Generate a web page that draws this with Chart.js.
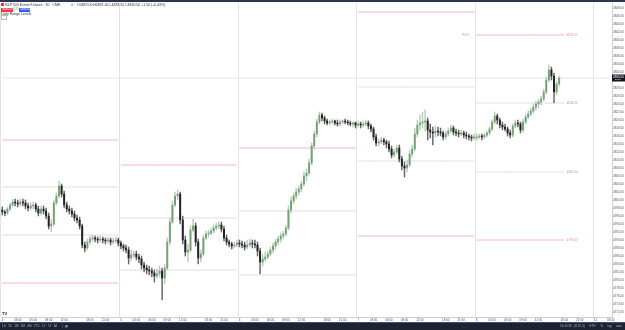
<!DOCTYPE html>
<html lang="en">
<head>
<meta charset="UTF-8">
<title>ES1! · 30 · CME</title>
<script src="https://cdn.jsdelivr.net/npm/chart.js"></script>
<style>
  body { margin: 0; width: 625px; height: 330px; overflow: hidden; background: #fff;
         font-family: "Liberation Sans", Arial, sans-serif; position: relative; }
  canvas { position: absolute; left: 0; top: 0; }
  .topline { position: absolute; left: 0; top: 0; width: 625px; height: 2px; background: #2c3554; }
  .row { position: absolute; left: 1px; white-space: nowrap; font-size: 3.5px; line-height: 4px; color: #333; }
  .logo { display: inline-block; width: 3px; height: 3px; background: #e03048; vertical-align: middle; margin-right: 1px; }
  .box { display: inline-block; height: 3.5px; line-height: 3.5px; padding: 0 1.5px; color: #fff; font-size: 2.8px; }
  .sell { background: #f23645; width: 9px; }
  .buy { background: #2962ff; width: 8px; }
  .spread { display: inline-block; width: 6px; text-align: center; color: #888; font-size: 2.8px; }
  .fold { position: absolute; left: 1px; top: 15px; width: 4px; height: 3px; border: 0.5px solid #bbb;
          font-size: 2.5px; line-height: 3px; text-align: center; color: #666; }
  .tv { position: absolute; left: 2px; top: 311px; font-size: 4px; font-weight: bold; color: #131722; }
  .bottombar { position: absolute; left: 0; top: 322px; width: 625px; height: 8px; background: #1e2233;
               border-top: 1px solid #3d4f8a; box-sizing: border-box; color: #aab; font-size: 3px; line-height: 7px; }
  .bottombar .l { position: absolute; left: 2px; word-spacing: 1.5px; }
  .bottombar .r { position: absolute; right: 3px; word-spacing: 1.5px; }
</style>
</head>
<body>
<canvas id="chart" width="625" height="330"></canvas>
<div class="topline"></div>
<div class="row" style="top:2.5px"><span class="logo"></span>S&amp;P 500 E-mini Futures · 30 · CME &nbsp;&nbsp;&nbsp;&nbsp;&nbsp;&nbsp;&nbsp;&nbsp;&nbsp; ≡ &nbsp;&nbsp; O4829.00 H4831.00 L4828.50 C4830.50 +1.50 (+0.03%)</div>
<div class="row" style="top:7px"><span class="box sell">4830.25</span><span class="spread">0.25</span><span class="box buy">4830.50</span></div>
<div class="row" style="top:11.5px">Daily Range Levels</div>
<div class="fold">^</div>
<div class="tv">TV</div>
<div class="bottombar">
  <span class="l">1D 5D 1M 3M 6M YTD 1Y 5Y All &nbsp;| &#9638;</span>
  <span class="r">16:10:36 (UTC-5) &nbsp;ETH &nbsp;% &nbsp;log &nbsp;auto</span>
</div>
<script>
// 30-minute candles, [open, high, low, close]
const day1 = [
  [4797.5,4798.25,4796.25,4797],[4797,4797.5,4796,4796.75],[4796.75,4798.25,4796.25,4797.75],
  [4797.75,4799.25,4797.25,4798.75],[4798.75,4800.25,4798.25,4799.5],[4799.5,4800.25,4798.5,4799.25],
  [4799.25,4800,4798.25,4799],[4799,4800.25,4798.5,4799.5],[4799.5,4800.25,4798.5,4799.25],
  [4799.25,4800,4797.75,4798.5],[4798.5,4799.25,4797.25,4798],[4798,4799.25,4797.5,4798.5],
  [4798.5,4799.5,4797.75,4798.75],[4798.75,4799.25,4797,4797.75],[4797.75,4798.5,4796,4796.75],
  [4796.75,4798.5,4796.25,4797.75],[4797.75,4798.5,4796.5,4797.25],[4797.25,4798,4795.25,4796],
  [4796,4796.75,4792.75,4793.5],[4793.5,4795.25,4792,4794],[4794,4800,4793.5,4799.25],
  [4799.25,4801.75,4798.75,4801],[4801,4804.75,4800.5,4803.5],[4803.5,4804,4800.75,4801.5],
  [4801.5,4802.25,4798,4798.75],[4798.75,4799.5,4797,4797.75],[4797.75,4798.5,4796.5,4797.25],
  [4797.25,4798,4795.75,4796.5],[4796.5,4797.25,4794.75,4795.5],[4795.5,4796.25,4794.25,4795],
  [4795,4795.75,4792.75,4793.5],[4793.5,4794,4788,4788.75],[4788.75,4789.5,4787,4788],
  [4788,4790.25,4787.5,4789.5],[4789.5,4791,4789,4790.25],[4790.25,4791.25,4789.75,4790.5],
  [4790.5,4791,4789.5,4790.25],[4790.25,4790.75,4789.25,4790],[4790,4791,4789.5,4790.25],
  [4790.25,4790.75,4789.25,4790],[4790,4790.5,4789,4789.75],[4789.75,4790.75,4789.25,4790],
  [4790,4790.5,4788.75,4789.5],[4789.5,4790.5,4789,4789.75],[4789.75,4790.75,4789.25,4790],
  [4790,4790.5,4788.5,4789.25]
];
const day2 = [
  [4789.25,4789.75,4787.75,4788.5],[4788.5,4789,4787.25,4788],[4788,4788.75,4786.75,4787.5],
  [4787.5,4788.25,4784,4785.5],[4785.5,4787.5,4784.75,4786.25],[4786.25,4787.25,4785.5,4786.5],
  [4786.5,4787.25,4785,4785.75],[4785.75,4786.5,4784.25,4785.25],[4785.25,4786,4782.75,4783.75],
  [4783.75,4784.5,4782,4783],[4783,4783.75,4781.5,4782.5],[4782.5,4783.5,4781.25,4782.25],
  [4782.25,4783,4780.75,4781.75],[4781.75,4782.5,4779.5,4781],[4781,4782.75,4780.5,4781.5],
  [4781.5,4783.5,4780.75,4782.25],[4782.25,4783,4775,4780.5],[4780.5,4784,4779,4783],
  [4783,4790.5,4782.5,4789.5],[4789.5,4795.5,4788.75,4794.5],[4794.5,4799.75,4794,4798.75],
  [4798.75,4802,4798.25,4801],[4801,4802.5,4800,4801.5],[4801.5,4802,4794,4795],
  [4795,4796,4789,4790],[4790,4791,4786,4787],[4787,4789,4784.5,4787.5],
  [4787.5,4793.5,4787,4792.5],[4792.5,4795.25,4792,4793.5],[4793.5,4794.25,4788.5,4789.5],
  [4789.5,4790.25,4784,4785.5],[4785.5,4787.5,4784.5,4786.5],[4786.5,4791.25,4786,4790.5],
  [4790.5,4792.25,4790,4791.5],[4791.5,4792.5,4790.75,4791.75],[4791.75,4793,4791.25,4792.25],
  [4792.25,4793.75,4791.75,4793],[4793,4794.25,4792.5,4793.5],[4793.5,4794.5,4792.75,4793.75],
  [4793.75,4794.5,4792,4792.75],[4792.75,4793.5,4789.75,4790.5],[4790.5,4791.25,4788.75,4789.5],
  [4789.5,4790,4788.25,4789],[4789,4789.5,4787.75,4788.5],[4788.5,4789.5,4788,4788.75],
  [4788.75,4790,4788.25,4789.25]
];
const day3 = [
  [4789.25,4790,4788.25,4789],[4789,4789.75,4788,4788.75],[4788.75,4789.5,4787.5,4788.25],
  [4788.25,4790,4787.75,4788.75],[4788.75,4790.25,4788.25,4789.25],[4789.25,4790,4788,4789],
  [4789,4790,4788,4788.75],[4788.75,4789.5,4786,4787.25],[4787.25,4788,4781.5,4784.5],
  [4784.5,4786.5,4783.5,4785.25],[4785.25,4787,4784.75,4785.75],[4785.75,4787.25,4785.25,4786.5],
  [4786.5,4788.25,4786,4787.5],[4787.5,4789.25,4786.75,4788.5],[4788.5,4790.25,4787.75,4789.5],
  [4789.5,4791,4788.75,4790.25],[4790.25,4791.75,4789.5,4791],[4791,4792.25,4790.25,4791.5],
  [4791.5,4793.75,4791,4793],[4793,4798.5,4792.5,4797.5],[4797.5,4800.75,4796.75,4799.75],
  [4799.75,4801.75,4799,4801],[4801,4803,4800.25,4802],[4802,4803.5,4801.25,4802.75],
  [4802.75,4804.75,4802,4804],[4804,4807,4803.5,4806],[4806,4807.75,4804.75,4806.75],
  [4806.75,4810.25,4806.25,4809.25],[4809.25,4814.25,4808.75,4813.5],[4813.5,4817.25,4812.75,4816.5],
  [4816.5,4820.25,4815.75,4819.5],[4819.5,4822,4819,4821.25],[4821.25,4821.75,4819.75,4820.5],
  [4820.5,4821,4819,4819.75],[4819.75,4820.25,4818.75,4819.25],[4819.25,4820,4818.75,4819.5],
  [4819.5,4820.25,4819,4819.75],[4819.75,4820,4818.75,4819.25],[4819.25,4820,4818.5,4819],
  [4819,4820,4818.5,4819.5],[4819.5,4820,4819,4819.75],[4819.75,4820.25,4819,4819.5],
  [4819.5,4820,4818.75,4819.25],[4819.25,4819.75,4818.5,4819],[4819,4819.5,4818.25,4819.25],
  [4819.25,4819.5,4818,4818.75]
];
const day4 = [
  [4818.75,4819.75,4818.25,4819],[4819,4819.5,4818,4818.75],[4818.75,4819.75,4818.25,4819],
  [4819,4820,4818.5,4819.25],[4819.25,4819.75,4817.75,4818.5],[4818.5,4819,4817,4817.75],
  [4817.75,4818.25,4815,4815.75],[4815.75,4816.5,4813.5,4814.25],[4814.25,4815.25,4813.5,4814.5],
  [4814.5,4815.75,4814,4815],[4815,4815.5,4813.75,4814.5],[4814.5,4815,4813,4814],
  [4814,4814.75,4812,4812.75],[4812.75,4813.5,4810.5,4811.25],[4811.25,4812.75,4810.75,4812],
  [4812,4813.75,4811.5,4813],[4813,4813.75,4809.5,4810.25],[4810.25,4811,4807.5,4808.5],
  [4808.5,4809.5,4805.75,4808],[4808,4810,4807,4808.75],[4808.75,4812.5,4808.25,4811.5],
  [4811.5,4813.75,4810.75,4812.75],[4812.75,4818,4812.25,4816.5],[4816.5,4820,4815.75,4818.75],
  [4818.75,4821.25,4817.5,4819.25],[4819.25,4822,4818,4819.5],[4819.5,4822.5,4817.25,4819.75],
  [4819.75,4820.5,4815,4817.5],[4817.5,4819,4815.5,4817],[4817,4818.25,4813.75,4816.75],
  [4816.75,4818.5,4815.75,4817.25],[4817.25,4818.25,4816,4817],[4817,4818,4816,4816.75],
  [4816.75,4817.25,4815,4815.75],[4815.75,4817.25,4815.25,4816.5],[4816.5,4818,4816,4817.25],
  [4817.25,4818.75,4816.75,4818],[4818,4818.5,4816.25,4817],[4817,4817.75,4816,4816.75],
  [4816.75,4817.5,4815.75,4816.5],[4816.5,4817.5,4816,4816.75],[4816.75,4817.25,4815.5,4816.25],
  [4816.25,4817,4815.25,4816],[4816,4816.5,4815,4815.75],[4815.75,4816.25,4814.75,4815.5],
  [4815.5,4816.5,4815,4815.75]
];
const day5 = [
  [4815.5,4816.5,4815,4815.75],[4815.75,4816.5,4815.25,4816],[4816,4816.5,4815,4815.75],
  [4815.75,4816.75,4815.25,4816.25],[4816.25,4817.25,4815.75,4816.75],[4816.75,4818.25,4816.25,4817.75],
  [4817.75,4820,4817.25,4819.5],[4819.5,4822,4819,4821],[4821,4821.5,4819,4820],
  [4820,4820.5,4818,4818.75],[4818.75,4819.5,4817.5,4818.25],[4818.25,4819,4817.25,4817.75],
  [4817.75,4818.25,4816,4816.75],[4816.75,4817.5,4815.5,4816.25],[4816.25,4819,4815.75,4818.5],
  [4818.5,4820,4818,4819.25],[4819.25,4820,4818.25,4819],[4819,4819.5,4816.75,4817.5],
  [4817.5,4820.25,4817,4819.5],[4819.5,4821.5,4819,4820.75],[4820.75,4822.25,4820.25,4821.5],
  [4821.5,4823,4821,4822.25],[4822.25,4824,4821.75,4823.25],[4823.25,4824.75,4822.5,4824],
  [4824,4825.25,4823,4824.5],[4824.5,4826,4823.75,4825.25],[4825.25,4827.75,4824.75,4827],
  [4827,4830.75,4826.5,4830],[4830,4833.75,4829.5,4832.5],[4832.5,4833.25,4830,4831],
  [4831,4831.75,4824.25,4827],[4827,4829.75,4826.25,4829],[4829,4831,4828.5,4830.5]
];

// daily range levels, one value per day
const rangeHigh  = [4815, 4808.75, 4813, 4847, 4841.25];
const rangeUpper = [4803.25, 4795.5, 4797.25, 4828.25, 4824.25];
const rangeLower = [4791.25, 4782.5, 4781.25, 4809.75, 4807];
const rangeLow   = [4779.25, 4769.5, 4765.5, 4791, 4790];

const dayLabels = ['4', '5', '6', '7', '8', '11'];
const hourLabels = ['03:00', '06:00', '09:00', '12:00', '18:00', '21:00'];
const lastPrice = 4830.50;

const family = '"Liberation Sans", Arial, sans-serif';
const slotsPerDay = 46;
const totalSlots = 237;
const lastLevelSlot = 34;   // how far today's levels reach

// session slots: 00:00 .. 23:30, no bars during 17:00-18:00 break
const sessionTimes = [];
for (let h = 0; h < 24; h++) {
    if (h === 17) continue;
    sessionTimes.push(String(h).padStart(2, '0') + ':00', String(h).padStart(2, '0') + ':30');
}
const labels = [];
for (let i = 0; i < totalSlots; i++) labels.push(sessionTimes[i % slotsPerDay]);

const candles = day1.concat(day2, day3, day4, day5);
const isUp = candles.map(c => c[3] >= c[0]);

function levelData(values) {
    return labels.map((_, i) => {
        const d = Math.floor(i / slotsPerDay);
        if (d < 4) return values[d];
        if (d === 4 && i % slotsPerDay <= lastLevelSlot) return values[4];
        return null;
    });
}

const pink = '#f7b3c3', grey = '#dedede';
const levels = [
    { values: rangeHigh, color: pink },
    { values: rangeUpper, color: grey },
    { values: rangeLower, color: grey },
    { values: rangeLow, color: pink }
];

const levelSets = levels.map(l => ({
    type: 'line',
    data: levelData(l.values),
    borderColor: l.color,
    borderWidth: 1,
    pointRadius: 0,
    spanGaps: false,
    order: 10,
    segment: {
        borderColor: c => Math.floor(c.p0DataIndex / slotsPerDay) === Math.floor(c.p1DataIndex / slotsPerDay) ? l.color : 'transparent'
    }
}));

const overlays = {
    id: 'overlays',
    afterDatasetsDraw(chart) {
        const { ctx, chartArea, scales: { x, y } } = chart;
        ctx.save();
        ctx.font = '3px ' + family;
        ctx.textBaseline = 'middle';
        // today's level values at the end of the lines
        const endX = x.getPixelForValue(4 * slotsPerDay + lastLevelSlot) + 2.5;
        levels.forEach(l => {
            ctx.fillStyle = l.color === grey ? '#999' : '#f08aa2';
            ctx.fillText(l.values[4].toFixed(2), endX, y.getPixelForValue(l.values[4]));
        });
        ctx.fillStyle = '#aaa';
        ctx.textAlign = 'right';
        ctx.fillText('PDH', x.getPixelForValue(4 * slotsPerDay) - 8, y.getPixelForValue(rangeHigh[4]));
        // last price tag on the price scale
        const py = y.getPixelForValue(lastPrice);
        ctx.fillStyle = '#131722';
        ctx.fillRect(chartArea.right, py - 3.5, 13, 7);
        ctx.fillStyle = '#fff';
        ctx.textAlign = 'left';
        ctx.fillText(lastPrice.toFixed(2), chartArea.right + 1, py - 1);
        ctx.font = '2.4px ' + family;
        ctx.fillText('19:24', chartArea.right + 3, py + 1.8);
        ctx.restore();
    }
};

new Chart(document.getElementById('chart'), {
    type: 'bar',
    data: {
        labels: labels,
        datasets: [
            {
                type: 'bar',
                data: candles.map(c => [c[2], c[1]]),
                backgroundColor: isUp.map(u => u ? '#bccbbc' : '#666'),
                barThickness: 0.8,
                grouped: false,
                order: 2
            },
            {
                type: 'bar',
                data: candles.map(c => [c[0], c[3]]),
                backgroundColor: isUp.map(u => u ? '#74a274' : '#222'),
                barThickness: 1.3,
                minBarLength: 1,
                grouped: false,
                order: 1
            },
            ...levelSets,
            {
                type: 'line',
                data: labels.map(() => lastPrice),
                borderColor: '#e6e6e6',
                borderWidth: 1,
                pointRadius: 0,
                order: 20
            }
        ]
    },
    options: {
        responsive: false,
        animation: false,
        events: [],
        layout: { padding: { left: 1, top: 3, right: 0, bottom: 8 } },
        plugins: { legend: { display: false }, tooltip: { enabled: false } },
        scales: {
            x: {
                offset: true,
                grid: {
                    offset: true,
                    drawTicks: false,
                    color: c => (c.index !== undefined && c.index < totalSlots && c.index % slotsPerDay === 0) ? '#e4e4e4' : 'transparent'
                },
                border: { display: true, color: '#d0d0d0' },
                ticks: {
                    autoSkip: false, maxRotation: 0, minRotation: 0, padding: 1,
                    font: { size: 3, family: family }, color: '#555',
                    callback: (v, i) => {
                        if (i % slotsPerDay === 0) return dayLabels[Math.floor(i / slotsPerDay)];
                        return hourLabels.includes(labels[i]) ? labels[i] : '';
                    }
                },
                afterFit: s => { s.height = 5; }
            },
            y: {
                position: 'right',
                min: 4770.75,
                max: 4849.25,
                grid: { display: false, drawTicks: false },
                border: { display: true, color: '#d0d0d0' },
                ticks: {
                    stepSize: 2, padding: 1,
                    font: { size: 3, family: family }, color: '#555',
                    callback: v => v.toFixed(2)
                },
                afterBuildTicks: s => { s.ticks = s.ticks.filter(t => t.value % 2 === 0); },
                afterFit: s => { s.width = 13; }
            }
        }
    },
    plugins: [overlays]
});
</script>
</body>
</html>
